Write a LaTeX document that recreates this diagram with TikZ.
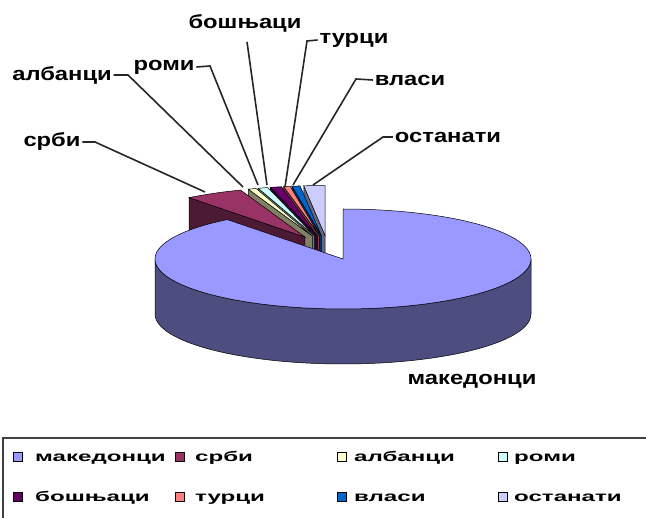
\documentclass[tikz,border=0pt]{standalone}
\usepackage{fontspec}
\setmainfont{Liberation Sans}
\usepackage{graphicx}
\definecolor{mak}{HTML}{9999FF}\definecolor{makS}{HTML}{4D4D80}
\definecolor{srb}{HTML}{993366}\definecolor{srbS}{HTML}{4D1A33}
\definecolor{alb}{HTML}{FFFFCC}\definecolor{albS}{HTML}{808066}
\definecolor{rom}{HTML}{CCFFFF}\definecolor{romS}{HTML}{668080}
\definecolor{bos}{HTML}{660066}\definecolor{bosS}{HTML}{330033}
\definecolor{tur}{HTML}{FF8080}\definecolor{turS}{HTML}{804040}
\definecolor{vla}{HTML}{0066CC}\definecolor{vlaS}{HTML}{003366}
\definecolor{ost}{HTML}{CCCCFF}\definecolor{ostS}{HTML}{666680}
\newcommand{\lbltext}[1]{\scalebox{1.25}[1]{\fontsize{19}{19}\selectfont\bfseries #1}}
\newcommand{\legtext}[1]{\scalebox{1.72}[1]{\fontsize{14}{14}\selectfont\bfseries #1}}
\def\RX{188}\def\RY{50}\def\DP{55}\def\OX{327.7}\def\OY{248}\def\EXF{0.25}
\newcommand{\smallslice}[4]{%
  \pgfmathsetmacro{\slmm}{(#1+#2)/2}%
  \pgfmathsetmacro{\slcx}{\OX+\EXF*\RX*cos(\slmm)}%
  \pgfmathsetmacro{\slcy}{\OY-\EXF*\RY*sin(\slmm)}%
  \filldraw[fill=#4, draw=black, line width=0.5pt] (\slcx,\slcy) -- ({\slcx+\RX*cos(#2)},{\slcy-\RY*sin(#2)}) -- ({\slcx+\RX*cos(#2)},{\slcy-\RY*sin(#2)+\DP}) -- (\slcx,{\slcy+\DP}) -- cycle;
  \filldraw[fill=#3, draw=black, line width=0.5pt] (\slcx,\slcy) -- plot[domain=#1:#2, samples=20] ({\slcx+\RX*cos(\x)},{\slcy-\RY*sin(\x)}) -- cycle;
}
\begin{document}
\begin{tikzpicture}[x=1pt,y=-1pt,
  lbl/.style={inner sep=2pt, outer sep=0pt, text=black},
  leader/.style={draw=black!85, line width=1.6pt},
  legsq/.style={draw=black, line width=0.6pt, minimum size=9pt, inner sep=0pt},
  legtx/.style={anchor=base west, inner sep=0pt}]
\useasboundingbox (0,0) rectangle (646,518);
\clip (0,0) rectangle (646,518);
\fill[white] (0,0) rectangle (646,518);
% small exploded slices (back to front)
\smallslice{90}{96.5}{ost}{ostS}
\smallslice{96.5}{99}{vla}{vlaS}
\smallslice{99}{101}{tur}{turS}
\smallslice{101}{104.5}{bos}{bosS}
\smallslice{104.5}{107.5}{rom}{romS}
\smallslice{107.5}{110}{alb}{albS}
\smallslice{110}{128}{srb}{srbS}
% big slice
\filldraw[fill=makS, draw=black, line width=0.5pt]
  plot[domain=180:360, samples=90] ({343+\RX*cos(\x)},{259-\RY*sin(\x)})
  -- plot[domain=360:180, samples=90] ({343+\RX*cos(\x)},{259-\RY*sin(\x)+\DP}) -- cycle;
\filldraw[fill=mak, draw=black, line width=0.5pt]
  (343,259) -- plot[domain=128:450, samples=160] ({343+\RX*cos(\x)},{259-\RY*sin(\x)}) -- cycle;
% labels
\node[lbl] (lsrb) at (52,142) {\lbltext{срби}};
\node[lbl] (lalb) at (62,75) {\lbltext{албанци}};
\node[lbl] (lrom) at (164,67) {\lbltext{роми}};
\node[lbl] (lbos) at (245,23) {\lbltext{бошњаци}};
\node[lbl] (ltur) at (354,40) {\lbltext{турци}};
\node[lbl] (lvla) at (410,80) {\lbltext{власи}};
\node[lbl] (lost) at (448,137) {\lbltext{останати}};
\node[lbl] (lmak) at (472,381) {\lbltext{македонци}};
% leader points
\coordinate (ksrb) at (95,142);  \coordinate (psrb) at (205,192);
\coordinate (kalb) at (128,75);  \coordinate (palb) at (243,187);
\coordinate (krom) at (210,66);  \coordinate (prom) at (258,185);
\coordinate (pbos) at (267,185);
\coordinate (ktur) at (307,41);  \coordinate (ptur) at (285,187);
\coordinate (kvla) at (356,79);  \coordinate (pvla) at (293,185);
\coordinate (kost) at (383,137); \coordinate (post) at (313,185);
\draw[leader] (lsrb.east) -- (ksrb) -- (psrb);
\draw[leader] (lalb.east) -- (kalb) -- (palb);
\draw[leader] (lrom.east) -- (krom) -- (prom);
\draw[leader] (lbos.south) ++(2,8) coordinate (sbos) (sbos) -- (pbos);
\draw[leader] (ltur.west) -- (ktur) -- (ptur);
\draw[leader] (lvla.west) -- (kvla) -- (pvla);
\draw[leader] (lost.west) -- (kost) -- (post);
% legend
\draw[draw=black!75, line width=1.6pt] (3,438) rectangle (700,560);
\node[legsq, fill=mak] (qmak) at (17.5,456.5) {};
\node[legsq, fill=srb] (qsrb) at (179.5,456.5) {};
\node[legsq, fill=alb] (qalb) at (341.5,456.5) {};
\node[legsq, fill=rom] (qrom) at (502.5,456.5) {};
\node[legsq, fill=bos] (qbos) at (17.5,496.5) {};
\node[legsq, fill=tur] (qtur) at (179.5,496.5) {};
\node[legsq, fill=vla] (qvla) at (341.5,496.5) {};
\node[legsq, fill=ost] (qost) at (502.5,496.5) {};
\node[legtx] (tmak) at (35,462) {\legtext{македонци}};
\node[legtx] (tsrb) at (195,462) {\legtext{срби}};
\node[legtx] (talb) at (354,462) {\legtext{албанци}};
\node[legtx] (trom) at (514,462) {\legtext{роми}};
\node[legtx] (tbos) at (35,502) {\legtext{бошњаци}};
\node[legtx] (ttur) at (195,502) {\legtext{турци}};
\node[legtx] (tvla) at (354,502) {\legtext{власи}};
\node[legtx] (tost) at (514,502) {\legtext{останати}};
\end{tikzpicture}
\end{document}
